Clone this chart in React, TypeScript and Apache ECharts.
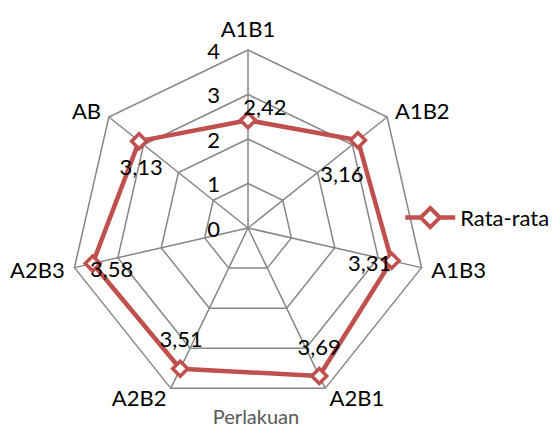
import React, { useEffect, useRef } from "react";
import * as echarts from "echarts";

// Categories in clockwise order starting from the top
const categories = ["A1B1", "A1B2", "A1B3", "A2B1", "A2B2", "A2B3", "AB"];
const values = [2.42, 3.16, 3.31, 3.69, 3.51, 3.58, 3.13];
const seriesName = "Rata-rata";
const axisTitle = "Perlakuan";
const axisMax = 4;
const tickCount = 4;

// label offsets (style) per category, clockwise order
const labelOffsets: [number, number][] = [
  [17, -14],
  [-16, 33],
  [-22, 2],
  [0, -29],
  [1, -30],
  [19, 5],
  [2, 25],
];

const FONT = "Lato, 'Open Sans', sans-serif";
const RED = "#C0504D";
const GRID = "#868686";

export default function App() {
  const ref = useRef<HTMLDivElement>(null);
  useEffect(() => {
    if (!ref.current) return;
    const chart = echarts.init(ref.current, undefined, { renderer: "svg" });
    // ECharts lays indicators counter-clockwise: reorder so they read clockwise
    const order = [0, ...Array.from({ length: categories.length - 1 }, (_, i) => categories.length - 1 - i)];
    const indicator = order.map((idx, k) => {
      const ind: any = { name: categories[idx], min: 0, max: axisMax };
      if (k === 0) ind.axisLabel = { show: true };
      return ind;
    });
    const ordered = order.map((i) => values[i]);
    const fmt = (v: number) => v.toFixed(2).replace(".", ",");

    const labelItems = order.map((idx, k) => ({
      value: ordered,
      label: {
        show: true,
        position: "inside",
        offset: labelOffsets[idx],
        color: "#000",
        fontSize: 22,
        fontFamily: FONT,
        formatter: (p: any) => (p.value === ordered[k] ? fmt(p.value) : ""),
      },
    }));

    chart.setOption({
      animation: false,
      title: {
        text: axisTitle,
        left: 251,
        top: 401,
        textAlign: "center",
        textStyle: { color: "#595959", fontSize: 20, fontWeight: "normal", fontFamily: FONT },
      },
      legend: {
        data: [seriesName],
        left: 403,
        top: 206,
        padding: 0,
        itemWidth: 50,
        itemHeight: 24,
        itemGap: 8,
        textStyle: { color: "#000", fontSize: 22, fontFamily: FONT },
        lineStyle: { color: RED, width: 4.5 },
        itemStyle: { color: "#fff", borderColor: RED, borderWidth: 4 },
      },
      grid: { show: false, left: -200, top: -200, width: 10, height: 10 },
      xAxis: { show: false, type: "value" },
      yAxis: { show: false, type: "value" },
      radar: {
        center: [248, 228],
        radius: 178,
        startAngle: 90,
        shape: "polygon",
        splitNumber: tickCount,
        indicator,
        axisName: { color: "#000", fontSize: 22, fontFamily: FONT },
        nameGap: 10,
        axisLine: { lineStyle: { color: GRID, width: 1.5 } },
        splitLine: { lineStyle: { color: GRID, width: 1.5 } },
        splitArea: { show: false },
        axisTick: { show: false },
        axisLabel: {
          show: false,
          color: "#000",
          fontSize: 22,
          fontFamily: FONT,
          margin: 28,
          formatter: (v: number) => String(v),
        },
      },
      series: [
        {
          type: "line",
          name: seriesName,
          data: [],
          symbol: "diamond",
          symbolSize: 18,
          itemStyle: { color: "#fff", borderColor: RED, borderWidth: 4 },
          lineStyle: { color: RED, width: 4.5 },
        },
        {
          type: "radar",
          name: seriesName,
          symbol: "diamond",
          symbolSize: 15,
          itemStyle: { color: "#fff", borderColor: RED, borderWidth: 3.5 },
          lineStyle: { color: RED, width: 4.5 },
          z: 3,
          data: [{ value: ordered, name: seriesName }],
        },
        {
          type: "radar",
          name: "labels",
          symbol: "circle",
          symbolSize: 1,
          itemStyle: { color: "transparent", borderWidth: 0 },
          lineStyle: { width: 0, color: "transparent" },
          z: 4,
          silent: true,
          data: labelItems,
        },
      ],
    });
    return () => chart.dispose();
  }, []);
  return (
    <div
      ref={ref}
      style={{ position: "fixed", left: 0, top: 0, width: 560, height: 428, background: "#fff" }}
    />
  );
}
